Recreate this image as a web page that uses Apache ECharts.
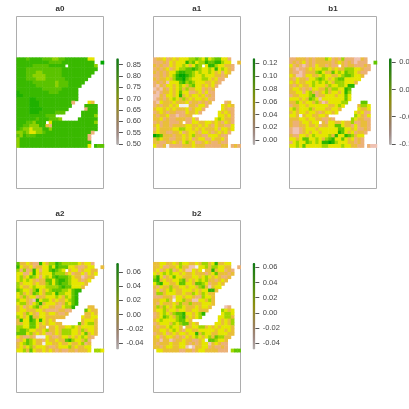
<!DOCTYPE html>
<html>
<head>
<meta charset="utf-8">
<style>
html,body{margin:0;padding:0;background:#fff}
#main{width:409px;height:409px;filter:blur(0.55px)}
</style>
<script src="https://cdn.jsdelivr.net/npm/echarts@6/dist/echarts.min.js"></script>
</head>
<body>
<div id="main"></div>
<script>
// every digit is the colour class, '.' is an empty cell
var a0Rows = [
"777677776665566777777744",
"777777777766667777777777..9",
"777776666677777.777777775",
"7776666666666677777777777",
"777666556666667777777777",
"77766555566666777777777",
"7776665556666667777777",
"777776666666566677777",
"77777766666656667777",
"7777777766666677777",
"8777777777666777777",
"8877777777777777777",
"7777887777777777777",
"777788877777777772....43",
"77778887777777777....7777",
"7777888877777777.....2777",
"777788877777666.....77777",
"777777777666........77775",
"77777767776665.....777777",
"777665777.477777777777775",
"7766555773277777777777777",
"7655455577577777777777777",
"556544556777777777777772",
"65766677777777777777772",
"57777777777777777777772",
"57777777777777777777777",
"57777777777777777777774.766"
];
var a1Rows = [
"233423434445565464566442",
"222324344475645576677544..3",
"323224344543465.477544332",
"2323423455667654454745432",
"323234467766545445434243",
"22323457887654454443323",
"3233435778654445543422",
"232314446756544433432",
"21324434543564434342",
"1213243453533442323",
"2123343464422342422",
"1132443473434434232",
"1232345435343443422",
"214333433342332323....23",
"23233434000332442....4343",
"3443434333423442.....4322",
"234323322243342.....43432",
"323342212233........44342",
"33423223332242.....454332",
"232332223.224433443432432",
"3423323333443343432433224",
"2433334455443434333424434",
"343322334234432443234342",
"87633323343453322444322",
"35433223343423442243342",
"33223343245342234322322",
"42230222233343332222233.232"
];
var b1Rows = [
"223332323335423252221132",
"232342323333323432321222..6",
"423212324332322.323322232",
"3212234344554343355544322",
"322123335643364546554322",
"43112443345443345665443",
"3243324456543456644444",
"434334454545435554443",
"32343345444354455477",
"3443232443353554476",
"3344245323453443475",
"2334445623344434464",
"4443436541444444464",
"335434435312444455....66",
"23344344444433454....3554",
"4534445344433443.....4334",
"343443443234434.....43422",
"443034433443........54324",
"33344344332232.....543322",
"322344344.324433433522332",
"3223343342334466433242332",
"2112344434444446644342232",
"211234344344444764342332",
"32244345444453744765344",
"44346644543567446434232",
"24544654547787544433232",
"44546444445544445443322.211"
];
var a2Rows = [
"633432274355765555543442",
"743342334464766644322344..3",
"525237424467654.344234433",
"4422474344465553423342434",
"453465424546766654331233",
"45454323366467765443234",
"5344434335646766544443",
"543345444555567664443",
"65443574345666554677",
"4534365435547554467",
"4353442334445435467",
"5443217455434334567",
"4553245734443235467",
"342345634433224557....33",
"34433344322223322....6433",
"4435432443443223.....3343",
"543473344333333.....43344",
"374476474343........34443",
"33446643434433.....634553",
"554466433.334334454344443",
"5665443345334355544353443",
"6664534342234355544346343",
"432232000432234434345432",
"23465433243343367544352",
"34565433044334334334523",
"34345344432234445343344",
"44536433434323223323334.554"
];
var b2Rows = [
"334433435443343553473344",
"334223345331104453554433..2",
"342345234311434.337344232",
"4345454434334333234633323",
"574234644333443454343223",
"67343344563434545332343",
"4674433466443665423343",
"324335334434435631344",
"24234543344434344773",
"2553444334335435433",
"2223331443443225443",
"3344530445331144353",
"3243334353353334443",
"353543455433343443....12",
"34453443443344333....5434",
"2345435667443457.....4554",
"234654356734345.....44553",
"345444456643........43435",
"23444354566343.....443435",
"323345443.334455343434443",
"3344345432443344444344343",
"2334234344344735443344433",
"342344323243454345365533",
"33133123343322340665443",
"32333433443232344134322",
"33234433441013344232232",
".4433333223323443333222.566"
];

// value each digit stands for in that panel
var a0Levels = [0.50, 0.545, 0.59, 0.64, 0.69, 0.75, 0.79, 0.82, 0.845, 0.875];
var a1Levels = [-0.007, 0.010, 0.027, 0.044, 0.060, 0.077, 0.094, 0.111, 0.128];
var b1Levels = [-0.10, -0.082, -0.062, -0.042, -0.022, -0.002, 0.018, 0.038, 0.057];
var a2Levels = [-0.048, -0.034, -0.019, -0.004, 0.012, 0.027, 0.042, 0.057, 0.072];
var b2Levels = [-0.048, -0.034, -0.020, -0.005, 0.009, 0.023, 0.037, 0.052, 0.065];

var a0Ticks = [0.50, 0.55, 0.60, 0.65, 0.70, 0.75, 0.80, 0.85];
var a1Ticks = [0.00, 0.02, 0.04, 0.06, 0.08, 0.10, 0.12];
var b1Ticks = [-0.10, -0.05, 0.00, 0.05];
var a2Ticks = [-0.04, -0.02, 0.00, 0.02, 0.04, 0.06];
var b2Ticks = [-0.04, -0.02, 0.00, 0.02, 0.04, 0.06];

var a0Range = [0.496, 0.878];
var a1Range = [-0.0074, 0.128];
var b1Range = [-0.1018, 0.0574];
var a2Range = [-0.0488, 0.0726];
var b2Range = [-0.0483, 0.0658];

var terrain = ['#F2F2F2', '#EFC2B3', '#ECB176', '#E9BD3A', '#E6E600', '#A0D600', '#63C600', '#2DB600', '#00A600'];
// the key is so narrow that its black outline darkens it
var terrainKey = ['#b4b0b0', '#a08a84', '#9a7f62', '#98863c', '#8f8f10', '#6c9010', '#488a10', '#2c8014', '#107a14'];

var panels = [
	{name: 'a0', rows: a0Rows, levels: a0Levels, ticks: a0Ticks, range: a0Range, left: 16.3, top: 15.7, keyLeft: 116.2},
	{name: 'a1', rows: a1Rows, levels: a1Levels, ticks: a1Ticks, range: a1Range, left: 153, top: 15.7, keyLeft: 252.6},
	{name: 'b1', rows: b1Rows, levels: b1Levels, ticks: b1Ticks, range: b1Range, left: 289.3, top: 15.7, keyLeft: 389},
	{name: 'a2', rows: a2Rows, levels: a2Levels, ticks: a2Ticks, range: a2Range, left: 16.3, top: 220.3, keyLeft: 116.2},
	{name: 'b2', rows: b2Rows, levels: b2Levels, ticks: b2Ticks, range: b2Range, left: 153, top: 220.3, keyLeft: 252.6}
];

var frameW = 87.4, frameH = 171.6;
var fieldOffset = 41.6, fieldH = 90;
var keyOffset = 42.6, keyH = 86.6, keyW = 2.7;

var colNames = [], rowNames = [];
for (var n = 0; n < 27; n++) {
	colNames.push('c' + n);
	rowNames.push('r' + n);
}

function makeCells(rows, levels) {
	var cells = [];
	rows.forEach(function (row, r) {
		for (var c = 0; c < row.length; c++) {
			if (row[c] != '.') cells.push([c, r, levels[+row[c]]]);
		}
	});
	return cells;
}

var option = {
	animation: false,
	backgroundColor: '#fff',
	textStyle: {fontFamily: '"Liberation Sans", Arial, sans-serif'},
	title: [], grid: [], xAxis: [], yAxis: [], visualMap: [], series: [], graphic: []
};

panels.forEach(function (p, i) {
	var fieldGrid = i * 2, keyGrid = i * 2 + 1;

	option.title.push({
		text: p.name,
		left: p.left + frameW / 2,
		top: p.top - 11,
		padding: 0,
		textAlign: 'center',
		textStyle: {fontSize: 8, fontWeight: 'bold', color: '#333', fontFamily: '"Liberation Sans", Arial, sans-serif'}
	});
	option.graphic.push({
		type: 'rect',
		silent: true,
		shape: {x: Math.round(p.left) + 0.5, y: Math.round(p.top) + 0.5, width: Math.round(frameW), height: Math.round(frameH)},
		style: {fill: 'none', stroke: '#adadad', lineWidth: 1}
	});

	option.grid.push({left: p.left + 0.3, top: p.top + fieldOffset + 0.3, width: frameW, height: fieldH});
	option.xAxis.push({type: 'category', gridIndex: fieldGrid, data: colNames, show: false});
	option.yAxis.push({type: 'category', gridIndex: fieldGrid, data: rowNames, inverse: true, show: false});
	option.series.push({
		type: 'heatmap',
		name: p.name,
		xAxisIndex: fieldGrid,
		yAxisIndex: fieldGrid,
		data: makeCells(p.rows, p.levels),
		progressive: 0,
		emphasis: {disabled: true}
	});
	option.visualMap.push({
		show: false,
		seriesIndex: i,
		min: p.range[0],
		max: p.range[1],
		inRange: {color: terrain}
	});

	// colour key: the bar comes from a visualMap, ticks and labels from a value axis next to it
	option.grid.push({left: p.keyLeft + keyW, top: p.top + keyOffset, width: 1, height: keyH});
	option.xAxis.push({type: 'value', gridIndex: keyGrid, show: false});
	option.yAxis.push({
		type: 'value',
		gridIndex: keyGrid,
		position: 'left',
		min: p.range[0],
		max: p.range[1],
		splitLine: {show: false},
		axisLine: {show: false},
		axisTick: {show: true, inside: true, length: 4, customValues: p.ticks, lineStyle: {color: '#555', width: 1}},
		axisLabel: {
			show: true,
			inside: true,
			margin: 7.5,
			customValues: p.ticks,
			fontSize: 7.5,
			color: '#444',
			formatter: function (v) { return v.toFixed(2); }
		}
	});
	option.visualMap.push({
		show: true,
		type: 'continuous',
		seriesIndex: [],
		min: p.range[0],
		max: p.range[1],
		left: p.keyLeft,
		top: p.top + keyOffset,
		padding: 0,
		itemWidth: keyW,
		itemHeight: keyH,
		calculable: false,
		hoverLink: false,
		text: null,
		inRange: {color: terrainKey}
	});
});

var chart = echarts.init(document.getElementById('main'), null, {renderer: 'canvas'});
chart.setOption(option);
</script>
</body>
</html>
